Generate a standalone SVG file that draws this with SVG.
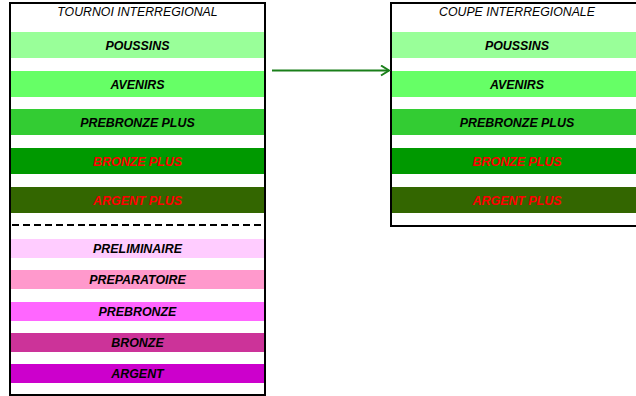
<svg xmlns="http://www.w3.org/2000/svg" width="636" height="396" viewBox="0 0 636 396">
<defs>
<style>
.box{fill:#fff;stroke:#000;stroke-width:2}
.ttl{font-family:"Liberation Sans",Arial,sans-serif;font-size:12.3px;font-style:italic;text-anchor:middle;fill:#000}
.lbl{font-family:"Liberation Sans",Arial,sans-serif;font-size:12.4px;font-style:italic;font-weight:bold;text-anchor:middle;fill:#000}
.red{fill:#ff0000}
</style>
<marker id="ah" markerWidth="12" markerHeight="12" refX="10" refY="6" orient="auto" markerUnits="userSpaceOnUse">
<path d="M2,1 L10,6 L2,11" fill="none" stroke="#1a7f1a" stroke-width="2"/>
</marker>
</defs>
<rect width="636" height="396" fill="#fff"/>
<g id="tournoi">
<rect class="box" x="10" y="3" width="255" height="392"/>
<text class="ttl" x="137.5" y="16">TOURNOI INTERREGIONAL</text>
<rect x="11" y="32" width="253" height="26" fill="#99ff99"/>
<text class="lbl" x="137.5" y="49.5">POUSSINS</text>
<rect x="11" y="71" width="253" height="26" fill="#66ff66"/>
<text class="lbl" x="137.5" y="88.5">AVENIRS</text>
<rect x="11" y="109" width="253" height="26" fill="#33cc33"/>
<text class="lbl" x="137.5" y="126.5">PREBRONZE PLUS</text>
<rect x="11" y="148" width="253" height="26" fill="#009900"/>
<text class="lbl red" x="137.5" y="165.5">BRONZE PLUS</text>
<rect x="11" y="187" width="253" height="26" fill="#336600"/>
<text class="lbl red" x="137.5" y="204.5">ARGENT PLUS</text>
<line x1="12" y1="225" x2="265" y2="225" stroke="#000" stroke-width="2" stroke-dasharray="7,4"/>
<rect x="11" y="239" width="253" height="19" fill="#ffccff"/>
<text class="lbl" x="137.5" y="253">PRELIMINAIRE</text>
<rect x="11" y="270" width="253" height="19" fill="#ff99cc"/>
<text class="lbl" x="137.5" y="284">PREPARATOIRE</text>
<rect x="11" y="302" width="253" height="19" fill="#ff66ff"/>
<text class="lbl" x="137.5" y="316">PREBRONZE</text>
<rect x="11" y="333" width="253" height="19" fill="#cc3399"/>
<text class="lbl" x="137.5" y="347">BRONZE</text>
<rect x="11" y="364" width="253" height="19" fill="#cc00cc"/>
<text class="lbl" x="137.5" y="378">ARGENT</text>
</g>
<g id="coupe">
<rect class="box" x="391" y="3" width="260" height="223"/>
<text class="ttl" x="517" y="16">COUPE INTERREGIONALE</text>
<rect x="392" y="32" width="244" height="26" fill="#99ff99"/>
<text class="lbl" x="517" y="49.5">POUSSINS</text>
<rect x="392" y="71" width="244" height="26" fill="#66ff66"/>
<text class="lbl" x="517" y="88.5">AVENIRS</text>
<rect x="392" y="109" width="244" height="26" fill="#33cc33"/>
<text class="lbl" x="517" y="126.5">PREBRONZE PLUS</text>
<rect x="392" y="148" width="244" height="26" fill="#009900"/>
<text class="lbl red" x="517" y="165.5">BRONZE PLUS</text>
<rect x="392" y="187" width="244" height="26" fill="#336600"/>
<text class="lbl red" x="517" y="204.5">ARGENT PLUS</text>
</g>
<g id="connectors">
<line x1="272" y1="70.5" x2="389" y2="70.5" stroke="#1a7f1a" stroke-width="2" marker-end="url(#ah)"/>
</g>
</svg>
